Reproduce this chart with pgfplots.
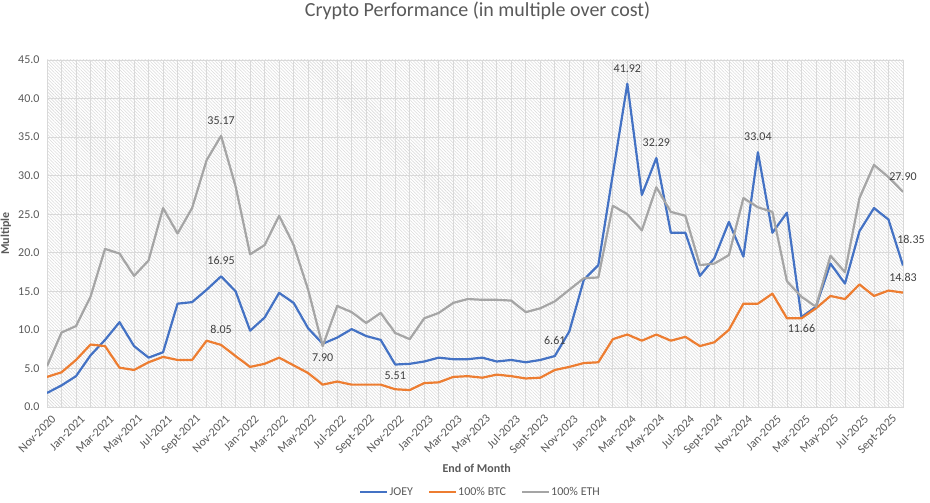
\documentclass[border=0pt]{standalone}
\usepackage{fontspec}
\setmainfont{Carlito}
\usepackage{pgfplots}
\pgfplotsset{compat=1.18}
\usepackage{pgfplotstable}
\usetikzlibrary{patterns.meta}

\definecolor{joey}{HTML}{4472C4}
\definecolor{btc}{HTML}{ED7D31}
\definecolor{eth}{HTML}{A5A5A5}
\definecolor{gridc}{HTML}{D9D9D9}
\definecolor{hatch}{HTML}{DADADA}
\definecolor{txt}{HTML}{595959}
\definecolor{lbl}{HTML}{404040}

% month index 0 = Nov-2020 ... 59 = Oct-2025
\pgfplotstableread{
m joey btc eth
0 1.82 3.9 5.3
1 2.8 4.5 9.65
2 4.0 6.1 10.5
3 6.7 8.1 14.3
4 8.7 7.9 20.5
5 11.0 5.1 19.9
6 7.9 4.8 17.0
7 6.4 5.8 19.0
8 7.1 6.5 25.8
9 13.4 6.1 22.5
10 13.6 6.1 25.8
11 15.2 8.6 32.0
12 16.95 8.05 35.17
13 15.0 6.6 28.6
14 9.9 5.2 19.8
15 11.6 5.6 21.0
16 14.8 6.4 24.8
17 13.5 5.4 21.0
18 10.2 4.4 15.2
19 8.2 2.9 7.90
20 9.0 3.3 13.1
21 10.1 2.9 12.3
22 9.2 2.9 10.9
23 8.7 2.9 12.2
24 5.51 2.3 9.6
25 5.6 2.2 8.8
26 5.9 3.1 11.5
27 6.4 3.2 12.2
28 6.2 3.9 13.5
29 6.2 4.0 14.0
30 6.4 3.8 13.9
31 5.9 4.2 13.9
32 6.1 4.0 13.8
33 5.8 3.7 12.3
34 6.1 3.8 12.8
35 6.61 4.8 13.7
36 9.8 5.2 15.2
37 16.5 5.7 16.7
38 18.4 5.8 16.8
39 30.2 8.8 26.1
40 41.92 9.4 25.0
41 27.5 8.6 22.9
42 32.29 9.4 28.5
43 22.6 8.6 25.3
44 22.6 9.1 24.8
45 17.0 7.9 18.4
46 19.3 8.4 18.6
47 24.0 10.0 19.7
48 19.5 13.4 27.1
49 33.04 13.4 25.9
50 22.6 14.7 25.3
51 25.2 11.5 16.3
52 11.66 11.5 14.3
53 13.0 12.8 13.0
54 18.6 14.4 19.6
55 16.0 14.0 17.5
56 22.8 15.9 27.1
57 25.8 14.4 31.4
58 24.3 15.1 29.8
59 18.35 14.83 27.90
}\perf

\begin{document}
\begin{tikzpicture}
\path[use as bounding box] (0,0) rectangle (930bp,503bp);
\begin{axis}[
    at={(47bp,96bp)}, anchor=south west,
    scale only axis, width=856bp, height=347bp,
    xmin=0, xmax=59, ymin=0, ymax=45,
    xtick={0,2,...,58},
    minor xtick={1,3,...,59},
    xticklabels={Nov-2020,Jan-2021,Mar-2021,May-2021,Jul-2021,Sept-2021,
      Nov-2021,Jan-2022,Mar-2022,May-2022,Jul-2022,Sept-2022,
      Nov-2022,Jan-2023,Mar-2023,May-2023,Jul-2023,Sept-2023,
      Nov-2023,Jan-2024,Mar-2024,May-2024,Jul-2024,Sept-2024,
      Nov-2024,Jan-2025,Mar-2025,May-2025,Jul-2025,Sept-2025},
    ytick={0,5,...,45},
    grid=both,
    major grid style={gridc, line width=0.75bp},
    minor grid style={gridc, line width=0.75bp},
    axis line style={gridc, line width=0.75bp},
    major tick length=0pt, minor tick length=0pt,
    axis background/.style={pattern={Lines[angle=-45,distance=2.3bp,line width=0.55bp]}, pattern color=hatch},
    /pgf/number format/.cd, fixed, fixed zerofill, precision=1, assume math mode=true, /tikz/.cd,
    ticklabel style={font=\fontsize{12bp}{14bp}\selectfont, text=txt},
    yticklabel style={xshift=-4bp},
    xticklabel style={rotate=45, anchor=east, yshift=-12bp, xshift=1bp},
    title={Crypto Performance (in multiple over cost)},
    title style={at={(axis description cs:0.503,1.124)}, anchor=center,
      font=\fontsize{20bp}{24bp}\selectfont, text=txt},
    ylabel={Multiple},
    ylabel style={at={(axis description cs:-0.048,0.5)}, anchor=center,
      font=\fontsize{12bp}{14bp}\selectfont\bfseries, text=txt},
    xlabel={End of Month},
    xlabel style={at={(axis description cs:0.502,-0.176)}, anchor=center,
      font=\fontsize{12bp}{14bp}\selectfont\bfseries, text=txt},
    legend style={at={(axis description cs:0.506,-0.245)}, anchor=center,
      draw=none, fill=none, font=\fontsize{12bp}{14bp}\selectfont, text=txt,
      nodes={inner sep=1bp},
      /tikz/every even column/.append style={column sep=14bp}},
    legend columns=3,
    legend image code/.code={\draw[#1, line width=2.2bp] (0bp,0bp) -- (27bp,0bp);},
    every node near coord/.append style={font=\fontsize{12bp}{14bp}\selectfont, text=lbl},
]
\addplot[joey, line width=2.2bp, line join=round] table[x=m, y=joey] {\perf};
\addlegendentry{JOEY}
\addplot[btc, line width=2.2bp, line join=round] table[x=m, y=btc] {\perf};
\addlegendentry{100\% BTC}
\addplot[eth, line width=2.2bp, line join=round] table[x=m, y=eth] {\perf};
\addlegendentry{100\% ETH}

% data labels above the point
\addplot[draw=none, forget plot, nodes near coords, point meta=explicit symbolic,
  every node near coord/.append style={anchor=south, yshift=8bp}]
  coordinates {(12,16.95)[16.95] (12,8.05)[8.05] (12,35.17)[35.17]
    (40,41.92)[41.92] (42,32.29)[32.29] (49,33.04)[33.04]
    (35,6.61)[6.61] (59,27.90)[27.90] (59,14.83)[14.83]};
% data labels below the point
\addplot[draw=none, forget plot, nodes near coords, point meta=explicit symbolic,
  every node near coord/.append style={anchor=north, yshift=-4bp}]
  coordinates {(19,7.90)[7.90] (24,5.51)[5.51] (52,11.66)[11.66]};
% last JOEY value, set off to the upper right
\addplot[draw=none, forget plot, nodes near coords, point meta=explicit symbolic,
  every node near coord/.append style={anchor=center, xshift=8bp, yshift=26bp}]
  coordinates {(59,18.35)[18.35]};
\end{axis}
\end{tikzpicture}
\end{document}
